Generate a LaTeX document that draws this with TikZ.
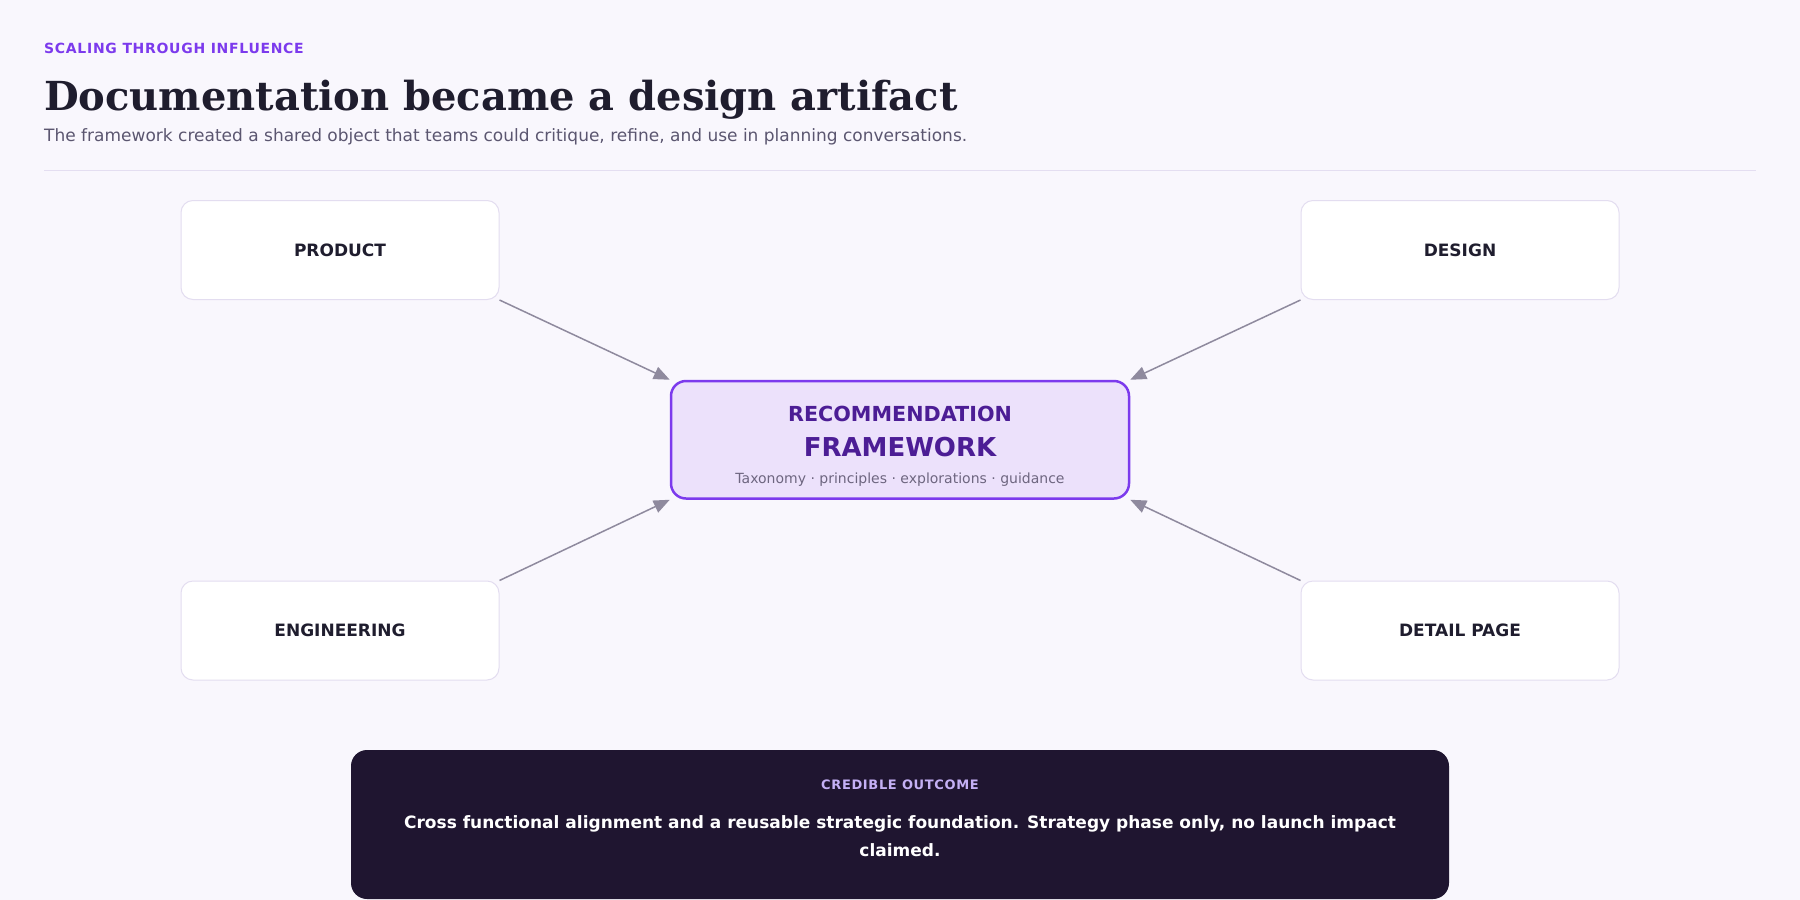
\documentclass[tikz,border=0pt]{standalone}
\usepackage{fontspec}
\setmainfont{DejaVu Sans}
\newfontfamily\titlefont{DejaVu Serif}
\newfontfamily\spacedfont[LetterSpace=5]{DejaVu Sans}
\usetikzlibrary{arrows.meta}
\definecolor{bg}{HTML}{F9F7FD}
\definecolor{accent}{HTML}{7C3AED}
\definecolor{ink}{HTML}{1F1D2E}
\definecolor{muted}{HTML}{5B5670}
\definecolor{rule}{HTML}{E4DEF1}
\definecolor{boxline}{HTML}{E3DDF0}
\definecolor{lilac}{HTML}{ECE1FB}
\definecolor{deep}{HTML}{4C1D95}
\definecolor{taxo}{HTML}{6E6680}
\definecolor{arrowgray}{HTML}{8F8A9E}
\definecolor{night}{HTML}{1F1530}
\definecolor{lavender}{HTML}{C4B0F5}
\tikzset{
  txt/.style={inner sep=0pt, anchor=base west},
  sidebox/.style={draw=boxline, fill=white, line width=1pt, rounded corners=12pt,
    minimum width=318pt, minimum height=99pt, text=ink,
    font=\fontsize{17}{20}\selectfont\bfseries},
  hub/.style={draw=accent, fill=lilac, line width=2.5pt, rounded corners=15pt,
    minimum width=458pt, minimum height=117.5pt},
  link/.style={draw=arrowgray, line width=1.5pt, -{Triangle[length=16pt,width=13pt]}},
}
\begin{document}
\begin{tikzpicture}[x=1pt,y=-1pt]
\fill[bg] (0,0) rectangle (1800,900);
\node[txt, text=accent, font=\spacedfont\fontsize{14}{17}\selectfont\bfseries] (kicker) at (44,53) {SCALING THROUGH INFLUENCE};
\node[txt, text=ink, font=\titlefont\fontsize{40}{46}\selectfont\bfseries] (title) at (44,110) {Documentation became a design artifact};
\node[txt, text=muted, font=\fontsize{17}{20}\selectfont] (subtitle) at (44,141) {The framework created a shared object that teams could critique, refine, and use in planning conversations.};
\draw[rule, line width=1pt] (44,170) -- (1756,170);

\node[sidebox] (product) at (340,250) {PRODUCT};
\node[sidebox] (design) at (1460,250) {DESIGN};
\node[sidebox] (engineering) at (340,630.5) {ENGINEERING};
\node[sidebox] (detail) at (1460,630.5) {DETAIL PAGE};

\node[hub] (framework) at (900,439.75) {};
\node[txt, anchor=base, text=deep, font=\fontsize{20.7}{24}\selectfont\bfseries] (hubtop) at (900,421.5) {RECOMMENDATION};
\node[txt, anchor=base, text=deep, font=\fontsize{26}{30}\selectfont\bfseries] (hubname) at (900,456.5) {FRAMEWORK};
\node[txt, anchor=base, text=taxo, font=\fontsize{14}{17}\selectfont] (hubsub) at (900,483) {Taxonomy · principles · explorations · guidance};

\draw[link] (product.south east) -- (framework.north west);
\draw[link] (design.south west) -- (framework.north east);
\draw[link] (engineering.north east) -- (framework.south west);
\draw[link] (detail.north west) -- (framework.south east);

\node[fill=night, rounded corners=16pt, minimum width=1098pt, minimum height=149pt] (outcome) at (900,824.5) {};
\node[txt, anchor=base, text=lavender, font=\spacedfont\fontsize{13}{15}\selectfont\bfseries] (outlabel) at (900,789) {CREDIBLE OUTCOME};
\node[txt, anchor=base, align=center, text=white, font=\fontsize{17}{28}\selectfont\bfseries] (outtext) at (900,856) {Cross functional alignment and a reusable strategic foundation. Strategy phase only, no launch impact\\claimed.};
\end{tikzpicture}
\end{document}
